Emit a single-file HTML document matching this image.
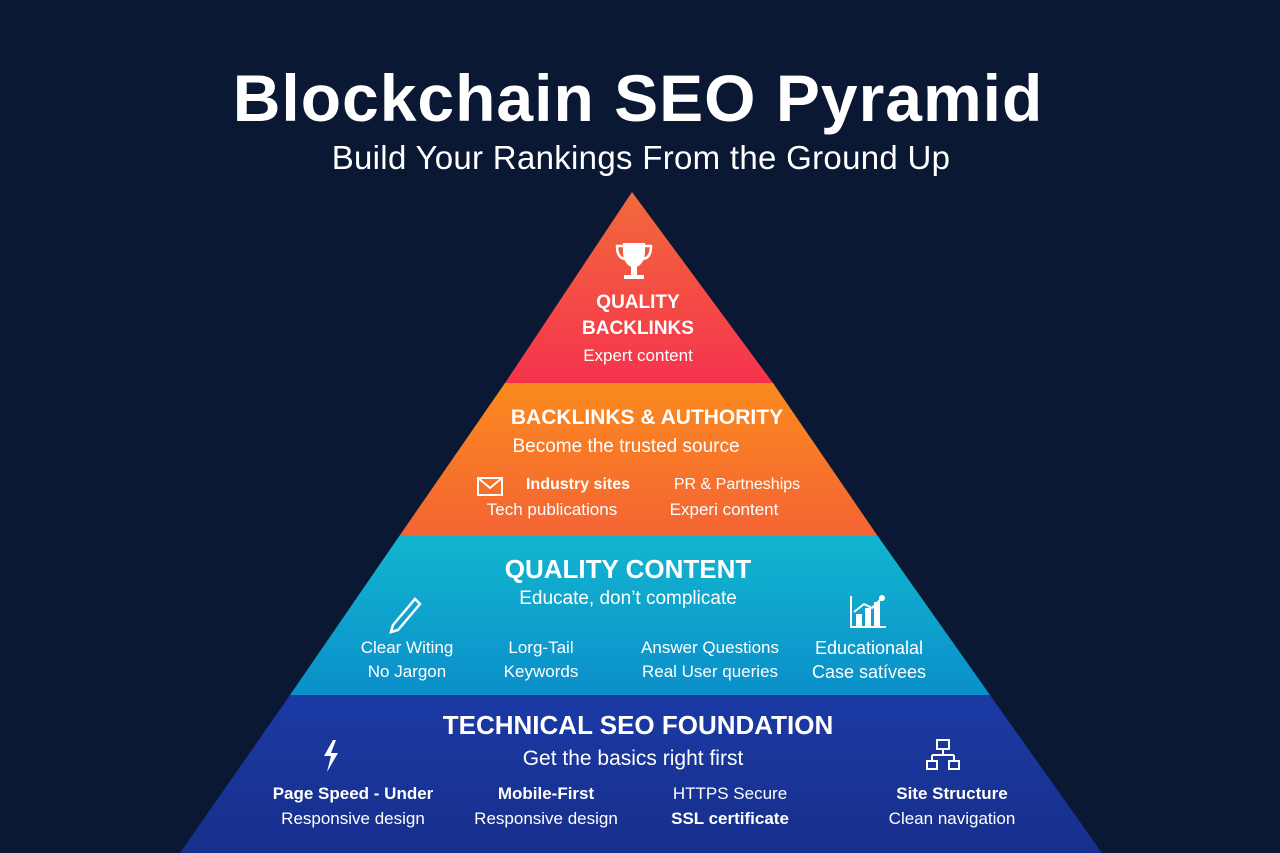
<!DOCTYPE html>
<html><head><meta charset="utf-8"><style>
html,body{margin:0;padding:0;}
body{width:1280px;height:853px;background:#0a1834;overflow:hidden;position:relative;font-family:"Liberation Sans","DejaVu Sans",sans-serif;color:#fff;}
.t{position:absolute;white-space:nowrap;text-align:center;transform:translateX(-50%);}
svg{position:absolute;left:0;top:0;}
</style></head><body>
<svg width="1280" height="853">
<defs>
<linearGradient id="r" x1="0" y1="0" x2="0" y2="1"><stop offset="0" stop-color="#f26a3a"/><stop offset="1" stop-color="#f5334d"/></linearGradient>
<linearGradient id="o" x1="0" y1="0" x2="0" y2="1"><stop offset="0" stop-color="#fb8a1e"/><stop offset="1" stop-color="#f46434"/></linearGradient>
<linearGradient id="c" x1="0" y1="0" x2="0" y2="1"><stop offset="0" stop-color="#12b6cf"/><stop offset="1" stop-color="#0b8fca"/></linearGradient>
<linearGradient id="b" x1="0" y1="0" x2="0" y2="1"><stop offset="0" stop-color="#1b3aa4"/><stop offset="1" stop-color="#172f8c"/></linearGradient>
</defs>
<polygon points="632,192 773,383 505,383" fill="url(#r)"/>
<polygon points="505,383 773,383 877,535 400,535" fill="url(#o)"/>
<polygon points="400,535 877,535 990,695 290,695" fill="url(#c)"/>
<polygon points="290,695 990,695 1102,853 180,853" fill="url(#b)"/>
<g fill="#fff"><path d="M623,243 h22 v8 q0,14 -11,17 q-11,-3 -11,-17z"/><rect x="631" y="267" width="6" height="8"/><rect x="624" y="275" width="20" height="4"/>
<path d="M623,246 h-6 q0,12 8,13" fill="none" stroke="#fff" stroke-width="2.5"/><path d="M645,246 h6 q0,12 -8,13" fill="none" stroke="#fff" stroke-width="2.5"/></g>
<g fill="none" stroke="#fff" stroke-width="2"><rect x="478" y="478" width="24" height="17"/><path d="M478,478 l12,10 l12,-10"/></g>
<path d="M393,625 l22,-26 l5,5 l-22,26 l-7,2z" fill="none" stroke="#fff" stroke-width="2.5"/>
<g fill="#fff"><rect x="850" y="596" width="2" height="32"/><rect x="850" y="626" width="36" height="2"/><rect x="856" y="614" width="6" height="12"/><rect x="865" y="608" width="6" height="18"/><rect x="874" y="602" width="6" height="24"/></g>
<path d="M854,612 l10,-8 l8,4 l10,-10" fill="none" stroke="#fff" stroke-width="2"/>
<circle cx="882" cy="598" r="3" fill="#fff"/>
<path d="M333,740 l-9,16 h7 l-4,16 l11,-19 h-7 l5,-13z" fill="#fff"/>
<g fill="none" stroke="#fff" stroke-width="2"><rect x="937" y="740" width="12" height="9"/><rect x="927" y="761" width="10" height="8"/><rect x="949" y="761" width="10" height="8"/><path d="M943,749 v6 M932,755 h22 M932,755 v6 M954,755 v6"/></g>
</svg>
<div class="t" style="left:638px;top:60px;font-size:66px;font-weight:bold;letter-spacing:1px;">Blockchain SEO Pyramid</div>
<div class="t" style="left:641px;top:139px;font-size:33px;letter-spacing:0.3px;">Build Your Rankings From the Ground Up</div>

<div class="t" style="left:638px;top:290px;font-size:19px;font-weight:bold;line-height:26px;">QUALITY<br>BACKLINKS</div>
<div class="t" style="left:638px;top:346px;font-size:17px;">Expert content</div>

<div class="t" style="left:647px;top:406px;font-size:21px;font-weight:bold;">BACKLINKS &amp; AUTHORITY</div>
<div class="t" style="left:626px;top:436px;font-size:19px;">Become the trusted source</div>
<div class="t" style="left:578px;top:476px;font-size:16px;font-weight:bold;">Industry sites</div>
<div class="t" style="left:552px;top:500px;font-size:17px;">Tech publications</div>
<div class="t" style="left:737px;top:476px;font-size:16px;">PR &amp; Partneships</div>
<div class="t" style="left:724px;top:500px;font-size:17px;">Experi content</div>

<div class="t" style="left:628px;top:554px;font-size:26px;font-weight:bold;">QUALITY CONTENT</div>
<div class="t" style="left:628px;top:588px;font-size:19px;">Educate, don’t complicate</div>
<div class="t" style="left:407px;top:636px;font-size:17px;line-height:24px;">Clear Witing<br>No Jargon</div>
<div class="t" style="left:541px;top:636px;font-size:17px;line-height:24px;">Lorg-Tail<br>Keywords</div>
<div class="t" style="left:710px;top:636px;font-size:17px;line-height:24px;">Answer Questions<br>Real User queries</div>
<div class="t" style="left:869px;top:636px;font-size:18px;line-height:24px;">Educationalal<br>Case satívees</div>

<div class="t" style="left:638px;top:710px;font-size:26px;font-weight:bold;">TECHNICAL SEO FOUNDATION</div>
<div class="t" style="left:633px;top:747px;font-size:21px;">Get the basics right first</div>
<div class="t" style="left:353px;top:781px;font-size:17px;line-height:25px;"><b>Page Speed - Under</b><br>Responsive design</div>
<div class="t" style="left:546px;top:781px;font-size:17px;line-height:25px;"><b>Mobile-First</b><br>Responsive design</div>
<div class="t" style="left:730px;top:781px;font-size:17px;line-height:25px;">HTTPS Secure<br><b>SSL certificate</b></div>
<div class="t" style="left:952px;top:781px;font-size:17px;line-height:25px;"><b>Site Structure</b><br>Clean navigation</div>
</body></html>
